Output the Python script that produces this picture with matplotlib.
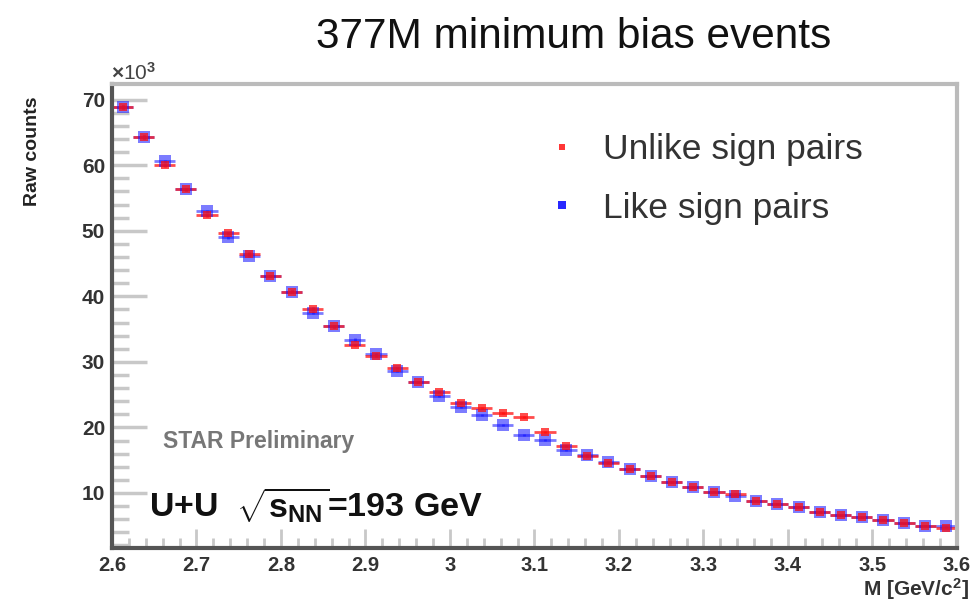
import numpy as np
import matplotlib.pyplot as plt
from matplotlib.lines import Line2D

plt.rcParams['font.family'] = ['Liberation Sans', 'DejaVu Sans']
plt.rcParams['mathtext.fontset'] = 'custom'
plt.rcParams['mathtext.rm'] = 'Liberation Sans:bold'
plt.rcParams['mathtext.bf'] = 'Liberation Sans:bold'
plt.rcParams['mathtext.it'] = 'Liberation Sans:bold'

# bin centres, GeV/c^2
mass = 2.6125 + 0.025 * np.arange(40)
bin_half = 0.0125

# raw counts in units of 10^3
unlike = [68.9, 64.3, 60.0, 56.3, 52.4, 49.6, 46.5, 43.1, 40.7, 38.1,
          35.4, 32.6, 30.9, 29.1, 26.9, 25.4, 23.7, 23.0, 22.2, 21.6,
          19.3, 17.2, 15.6, 14.6, 13.7, 12.6, 11.7, 10.9, 10.2, 9.9,
          8.8, 8.3, 7.9, 7.1, 6.6, 6.3, 5.9, 5.4, 5.0, 4.7]
like = [68.9, 64.3, 60.6, 56.3, 53.0, 49.0, 46.2, 43.1, 40.7, 37.5,
        35.4, 33.4, 31.2, 28.6, 26.9, 24.8, 23.1, 21.9, 20.4, 18.9,
        18.1, 16.6, 15.8, 14.7, 13.7, 12.6, 11.7, 10.9, 10.2, 9.6,
        8.8, 8.3, 7.9, 7.1, 6.6, 6.3, 5.9, 5.4, 5.0, 4.9]

fig = plt.figure(figsize=(9.79, 6.04), dpi=100)
ax = fig.add_axes([0.1144, 0.0927, 0.8631, 0.7683])

ax.errorbar(mass, like, xerr=bin_half, yerr=np.sqrt(np.array(like) * 1e3) / 1e3,
            fmt='s', color='#1010ff', ms=8, mew=0, elinewidth=2, alpha=0.55)
ax.errorbar(mass, unlike, xerr=bin_half, yerr=np.sqrt(np.array(unlike) * 1e3) / 1e3,
            fmt='s', color='#ff1010', ms=6, mew=0, elinewidth=2, alpha=0.75)

ax.set_xlim(2.6, 3.6)
ax.set_ylim(1.6, 72.4)
ax.set_xticks(np.arange(2.6, 3.61, 0.1))
ax.set_xticklabels(['2.6', '2.7', '2.8', '2.9', '3', '3.1', '3.2', '3.3', '3.4', '3.5', '3.6'])
ax.set_xticks(np.arange(2.6, 3.6, 0.02), minor=True)
ax.set_yticks(np.arange(10, 71, 10))
ax.set_yticks(np.arange(2, 72, 2), minor=True)

ax.tick_params(axis='both', which='both', direction='in', color='#c8c8c8',
               labelcolor='#333333')
ax.tick_params(axis='y', which='major', length=25, width=2.5, labelsize=15, pad=5)
ax.tick_params(axis='y', which='minor', length=12, width=2.5)
ax.tick_params(axis='x', which='major', length=14, width=2, labelsize=14.5, pad=6)
ax.tick_params(axis='x', which='minor', length=7, width=2)
for lab in ax.get_xticklabels() + ax.get_yticklabels():
    lab.set_fontweight('bold')

for side in ['left', 'bottom']:
    ax.spines[side].set_color('#555555')
    ax.spines[side].set_linewidth(3)
for side in ['top', 'right']:
    ax.spines[side].set_color('#bbbbbb')
    ax.spines[side].set_linewidth(3)

fig.text(0.586, 0.938, '377M minimum bias events', ha='center', va='center',
         fontsize=30.5, color='#111111')
fig.text(0.113, 0.88, r'$\times$10$^3$', fontsize=15, color='#444444',
         ha='left', va='center')
fig.text(0.033, 0.75, 'Raw counts', rotation=90, fontsize=14, fontweight='bold',
         color='#222222', ha='center', va='center')
fig.text(0.99, 0.004, r'M [GeV/c$^2$]', fontsize=15, fontweight='bold',
         color='#333333', ha='right', va='bottom')

ax.text(0.06, 0.23, 'STAR Preliminary', transform=ax.transAxes, fontsize=16.5,
        fontweight='bold', color='#777777', ha='left', va='center')
ax.text(0.044, 0.09, r'U+U  $\sqrt{s_{NN}}$=193 GeV', transform=ax.transAxes,
        fontsize=24.5, fontweight='bold', color='#111111', ha='left', va='center')

handles = [Line2D([], [], ls='none', marker='s', ms=5, mew=0, color='#ff2020', alpha=0.9),
           Line2D([], [], ls='none', marker='s', ms=6, mew=0, color='#1010ff', alpha=0.9)]
labels = ['Unlike sign pairs', 'Like sign pairs']
leg = ax.legend(handles, labels, loc='center left', bbox_to_anchor=(0.478, 0.795),
                frameon=False, fontsize=25.5, handlelength=0.8, handletextpad=0.76,
                labelspacing=0.72)
for t in leg.get_texts():
    t.set_color('#333333')

fig.savefig('out.png', dpi=100)
